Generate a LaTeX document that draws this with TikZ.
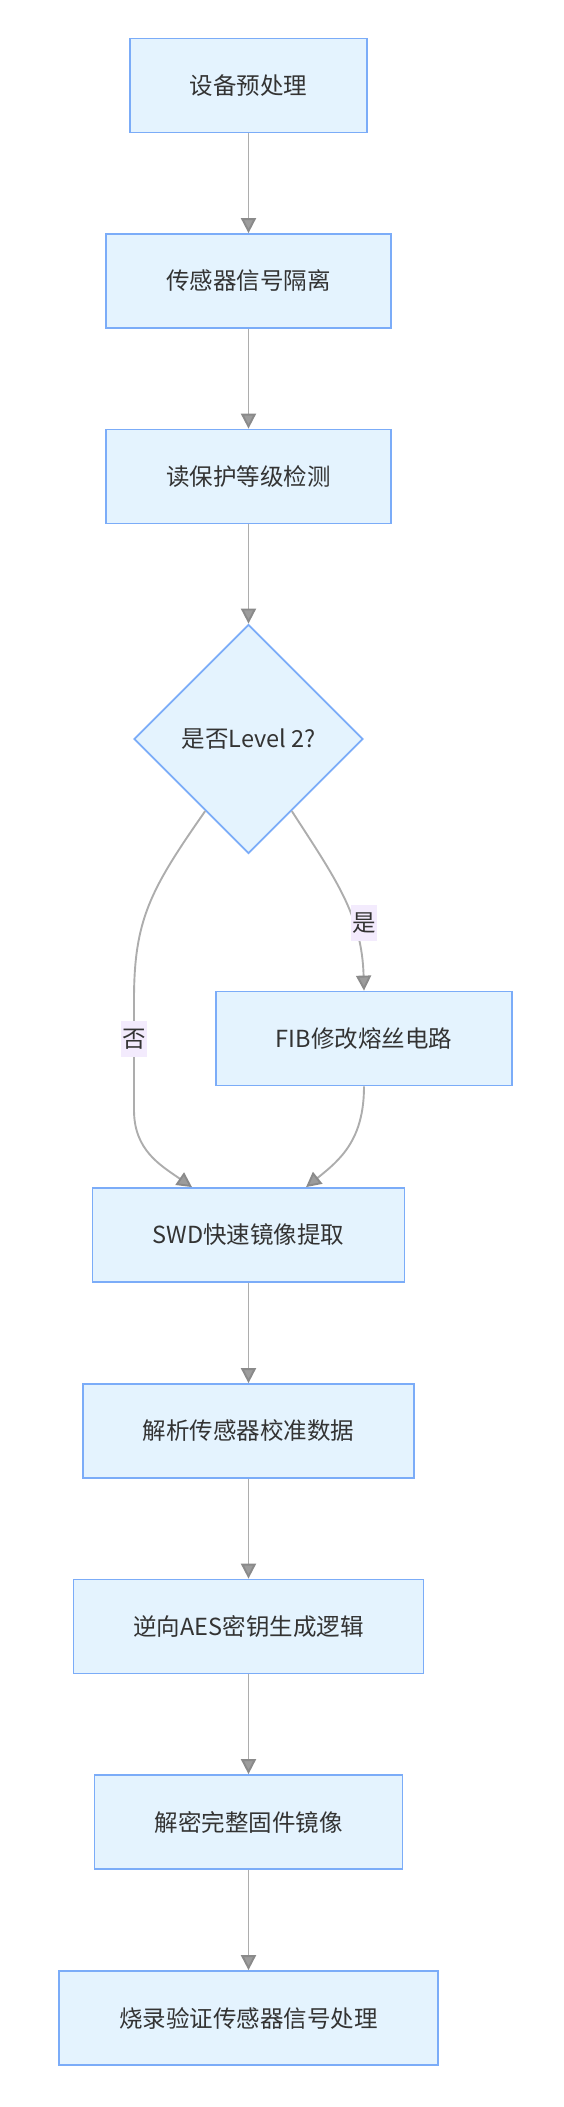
\documentclass[tikz,border=0pt]{standalone}
\usepackage{fontspec}
\setmainfont{Noto Sans CJK SC}
\usetikzlibrary{shapes.geometric, arrows.meta}
\definecolor{boxfill}{HTML}{E4F3FE}
\definecolor{boxline}{HTML}{7BACF8}
\definecolor{flowline}{HTML}{ADADAD}
\definecolor{tipfill}{HTML}{9C9C9C}
\definecolor{tipline}{HTML}{8A8A8A}
\definecolor{labelfill}{HTML}{F3EBFD}
\definecolor{txt}{HTML}{333333}
\tikzset{
  stepbox/.style={draw=boxline, fill=boxfill, line width=1.8pt, text=txt,
    inner xsep=60pt, minimum height=94pt},
  decision/.style={diamond, aspect=1, draw=boxline, fill=boxfill, line width=1.8pt,
    text=txt, minimum width=229pt, minimum height=229pt, inner sep=0pt},
  edgelabel/.style={fill=labelfill, text=txt, inner xsep=1pt, inner ysep=0pt,
    minimum height=36pt},
  flow/.style={draw=flowline, line width=1.9pt,
    -{Triangle[length=15pt, width=15pt, color=tipline, fill=tipfill]}}
}

\begin{document}
\begin{tikzpicture}[x=1pt, y=-1pt, font=\fontsize{23.5}{28}\selectfont]
    \useasboundingbox (0,0) rectangle (563,2107);

    % the steps, top to bottom
    \node[stepbox] (prep)  at (248.5,85.5)  {设备预处理};
    \node[stepbox] (iso)   at (248.5,281)   {传感器信号隔离};
    \node[stepbox] (rdp)   at (248.5,476.5) {读保护等级检测};
    \node[decision] (lvl)  at (248.5,739)   {是否Level 2?};
    \node[stepbox] (fib)   at (364,1038.5)  {FIB修改熔丝电路};
    \node[stepbox] (swd)   at (248.5,1235)  {SWD快速镜像提取};
    \node[stepbox] (calib) at (248.5,1431)  {解析传感器校准数据};
    \node[stepbox] (aes)   at (248.5,1626.5) {逆向AES密钥生成逻辑};
    \node[stepbox] (dec)   at (248.5,1822)  {解密完整固件镜像};
    \node[stepbox] (burn)  at (248.5,2018)  {烧录验证传感器信号处理};

    % straight arrows
    \draw[flow] (prep) -- (iso);
    \draw[flow] (iso) -- (rdp);
    \draw[flow] (rdp) -- (lvl);
    \draw[flow] (swd) -- (calib);
    \draw[flow] (calib) -- (aes);
    \draw[flow] (aes) -- (dec);
    \draw[flow] (dec) -- (burn);

    % the two branches of the decision
    \draw[flow] (lvl.239) .. controls (150,890) and (134,920) .. (134,1000)
        -- (134,1110) .. controls (134,1150) and (160,1165) .. ([xshift=-56.5pt]swd.north);
    \draw[flow] (lvl.301) .. controls (335,878) and (362,915) .. (fib.north);
    \draw[flow] (fib.south) .. controls (364,1140) and (340,1160) .. ([xshift=57.5pt]swd.north);

    % labels on top of the branches
    \node[edgelabel] (no)  at (134,1039) {否};
    \node[edgelabel] (yes) at (364,923)  {是};
\end{tikzpicture}
\end{document}
